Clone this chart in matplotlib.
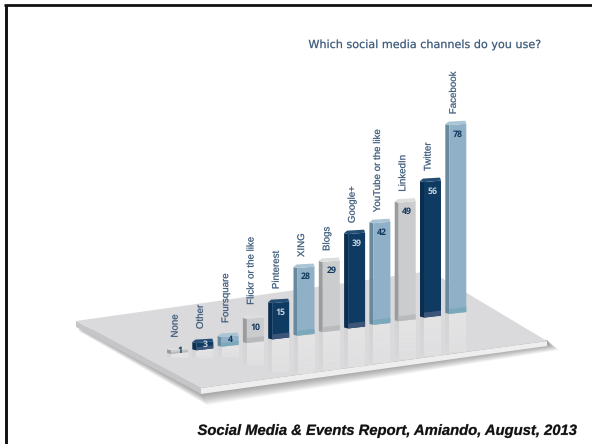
import numpy as np
import matplotlib.pyplot as plt
import matplotlib.patheffects as pe
from matplotlib.patches import Polygon, Rectangle

channels = ['None', 'Other', 'Foursquare', 'Flickr or the like', 'Pinterest', 'XING',
            'Blogs', 'Google+', 'YouTube or the like', 'LinkedIn', 'Twitter', 'Facebook']
values = [1, 3, 4, 10, 15, 28, 29, 39, 42, 49, 56, 78]
bar_styles = ['grey', 'navy', 'blue', 'grey', 'navy', 'blue',
              'grey', 'navy', 'blue', 'grey', 'navy', 'blue']

# front, side, top, foot, number colour
palette = {
    'navy': ('#0f3a62', '#0b2e50', '#234d74', '#3c5578', '#c4d3df'),
    'blue': ('#8fb0c6', '#688a9f', '#a9c4d4', '#7ba9bb', '#123a5e'),
    'grey': ('#cbcccd', '#9b9c9e', '#dcdddd', '#b9babb', '#123a5e'),
}

TEXT = '#3a5878'
WIDTH = 21
SIDE = 4
PX_PER_UNIT = 2.42

plt.rcParams['text.hinting'] = 'none'


def poly(ax, pts, color, z, alpha=1.0):
    ax.add_patch(Polygon(pts, closed=True, facecolor=color, edgecolor='none', alpha=alpha, zorder=z))


def thicken(color, alpha):
    # faint outline so small text is not too thin
    return [pe.withStroke(linewidth=0.4, foreground=color, alpha=alpha)]


def draw_platform(ax):
    # soft shadow under the front edges
    for off in range(1, 13):
        pts = [(78, 326 + off * 0.4), (201 + off * 0.5, 393 + off), (548 + off * 0.9, 344 + off * 0.5), (547, 340)]
        poly(ax, pts, '#444444', 1, alpha=0.05)
    poly(ax, [(76, 321), (201, 388), (201, 394), (76, 327)], '#c6c6c8', 2)
    poly(ax, [(201, 388), (547, 341), (547, 346), (201, 394)], '#eeeeef', 2)
    poly(ax, [(76, 321), (430, 271), (547, 341), (201, 388)], '#dadadc', 3)


def draw_reflection(ax, x, y, h):
    # fading mirror of the bar on the platform
    depth = min(39, h * 0.85)
    steps = 12
    for s in range(steps):
        y0 = y + depth * s / steps
        fade = 1 - 0.5 * s / steps
        ax.add_patch(Rectangle((x, y0), WIDTH, depth / steps + 0.2, facecolor='#e4e4e5',
                               edgecolor='none', alpha=0.95 * fade, zorder=4))
        ax.add_patch(Rectangle((x, y0), SIDE, depth / steps + 0.2, facecolor='#cfcfd1',
                               edgecolor='none', alpha=0.8 * fade, zorder=4))


def draw_bar(ax, x, y, value, style, name):
    front, side, top, foot, num = palette[style]
    h = value * PX_PER_UNIT + 3
    yt = y - h
    draw_reflection(ax, x, y, h)
    rim = min(3, h * 0.3)
    poly(ax, [(x, y), (x, yt + rim), (x + SIDE, yt + rim + 1), (x + SIDE, y + 1)], side, 5)
    poly(ax, [(x + SIDE, y + 1), (x + SIDE, yt + rim + 1), (x + WIDTH, yt + rim - 0.5), (x + WIDTH, y - 1)], front, 5)
    poly(ax, [(x, yt + rim), (x + SIDE - 1, yt + 0.5), (x + WIDTH - 1, yt - 0.5), (x + WIDTH, yt + rim - 0.5), (x + SIDE, yt + rim + 1)], top, 6)
    foot_h = min(5, h * 0.3)
    poly(ax, [(x + SIDE, y + 1), (x + SIDE, y + 1 - foot_h), (x + WIDTH, y - 1 - foot_h), (x + WIDTH, y - 1)], foot, 6)
    # value printed on the bar
    ax.text(x + WIDTH / 2 + 2, yt + min(13, h * 0.55), str(value), color=num, fontsize=6.3,
            fontweight='bold', family='Open Sans', ha='center', va='center', zorder=7)
    # channel name above the bar
    gap = 10 if h < 40 else 7
    ax.text(x + WIDTH / 2 - 2.5, yt - gap, name, color=TEXT, fontsize=7.0, family='Liberation Sans',
            rotation=90, ha='center', va='bottom', zorder=7, path_effects=thicken(TEXT, 0.3))


fig = plt.figure(figsize=(5.92, 4.44), dpi=100)
ax = fig.add_axes([0, 0, 1, 1])
ax.set_xlim(0, 592)
ax.set_ylim(444, 0)
ax.axis('off')

# heavy rule on the top and left of the slide
ax.plot([5.8, 5.8], [444, 4.6], color='#111111', lw=2.1, solid_capstyle='butt')
ax.plot([4.3, 592], [4.6, 4.6], color='#111111', lw=2.0, solid_capstyle='butt')

draw_platform(ax)

# bars step to the right and towards the back of the platform
xs = 167 + 25.3 * np.arange(len(values))
ys = 353 - 3.64 * np.arange(len(values))
for x, y, v, st, name in zip(xs, ys, values, bar_styles, channels):
    draw_bar(ax, x, y, v, st, name)

ax.text(540, 45, 'Which social media channels do you use?', color=TEXT, fontsize=8.05,
        family='DejaVu Sans', ha='right', va='center', path_effects=thicken(TEXT, 0.3))
ax.text(576, 431, 'Social Media & Events Report, Amiando, August, 2013', color='#111111',
        fontsize=10.65, family='Liberation Sans', fontweight='bold', fontstyle='italic',
        ha='right', va='center', path_effects=thicken('#111111', 0.4))

fig.savefig('out.png', dpi=100)
